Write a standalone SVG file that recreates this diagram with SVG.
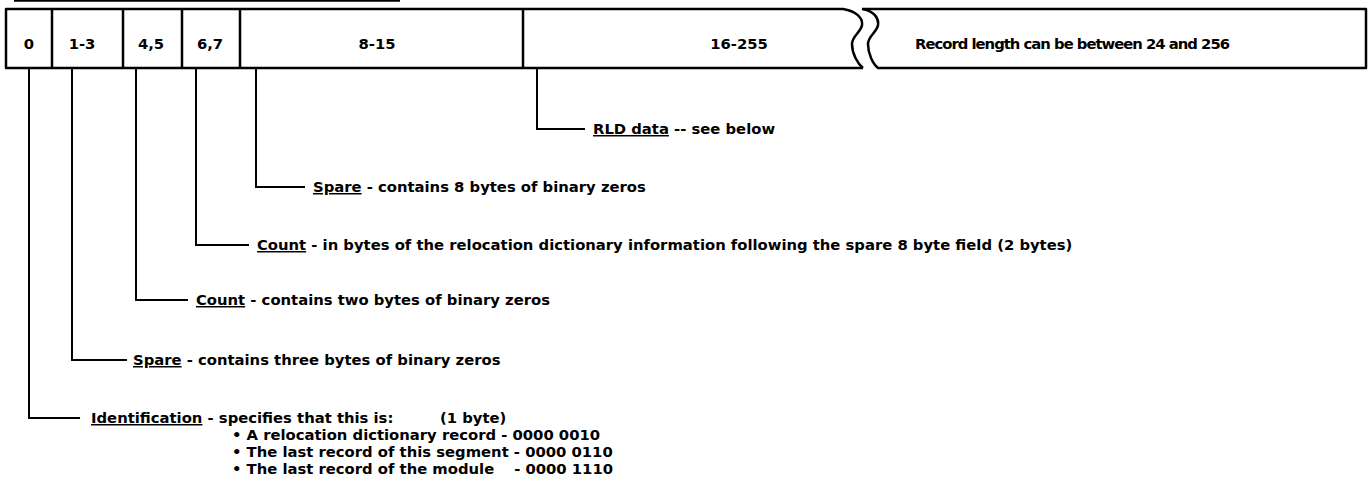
<svg xmlns="http://www.w3.org/2000/svg" width="1371" height="494" viewBox="0 0 1371 494">
  <style>
    .frame { fill: none; stroke: #000; stroke-width: 2.5; stroke-linejoin: round; }
    .lead { fill: none; stroke: #000; stroke-width: 2; }
    .t { font-family: "DejaVu Sans", "Liberation Sans", sans-serif; font-weight: 700; font-size: 14.8px; fill: #000; }
    .c { text-anchor: middle; }
    .u { text-decoration: underline; }
  </style>
  <rect width="1371" height="494" fill="#fff"/>

  <!-- rule left over from the heading above the record -->
  <line x1="14" y1="0.8" x2="400" y2="0.8" stroke="#000" stroke-width="2"/>

  <!-- record layout -->
  <g id="record">
    <path class="frame" d="M863,68 H6 V9 H843 C856,11 863,18 862,25 C861,32 852,36 852,44 C852,54 858,64 863,68"/>
    <path class="frame" d="M862,9 C874,11 879,18 878,25 C877,32 868,36 868,44 C868,54 873,64 878,68 H1366 V9 H862"/>
    <g id="f0"><line class="frame" x1="52" y1="9" x2="52" y2="68"/><text class="t c" x="29" y="49">0</text></g>
    <g id="f1-3"><line class="frame" x1="123" y1="9" x2="123" y2="68"/><text class="t c" x="82" y="49">1-3</text></g>
    <g id="f4-5"><line class="frame" x1="182" y1="9" x2="182" y2="68"/><text class="t c" x="151" y="49">4,5</text></g>
    <g id="f6-7"><line class="frame" x1="240" y1="9" x2="240" y2="68"/><text class="t c" x="210" y="49">6,7</text></g>
    <g id="f8-15"><line class="frame" x1="523" y1="9" x2="523" y2="68"/><text class="t c" x="377" y="49">8-15</text></g>
    <g id="f16-255"><text class="t c" x="739" y="49">16-255</text></g>
    <g id="length"><text class="t" x="915" y="49" textLength="315">Record length can be between 24 and 256</text></g>
  </g>

  <!-- leaders from each field to its description -->
  <g id="connectors">
    <path class="lead" d="M537,68 V129 H585"/>
    <path class="lead" d="M256,68 V187 H305"/>
    <path class="lead" d="M196,68 V245 H249"/>
    <path class="lead" d="M136,68 V300 H188"/>
    <path class="lead" d="M72,68 V360 H127"/>
    <path class="lead" d="M29,68 V418 H80"/>
  </g>

  <g id="d16-255"><text class="t" x="593" y="134"><tspan class="u">RLD data</tspan> -- see below</text></g>
  <g id="d8-15"><text class="t" x="313" y="192"><tspan class="u">Spare</tspan> - contains 8 bytes of binary zeros</text></g>
  <g id="d6-7"><text class="t" x="257" y="250"><tspan class="u">Count</tspan> - in bytes of the relocation dictionary information following the spare 8 byte field (2 bytes)</text></g>
  <g id="d4-5"><text class="t" x="196" y="305"><tspan class="u">Count</tspan> - contains two bytes of binary zeros</text></g>
  <g id="d1-3"><text class="t" x="133" y="365"><tspan class="u">Spare</tspan> - contains three bytes of binary zeros</text></g>
  <g id="d0">
    <text class="t" x="91" y="423"><tspan class="u">Identification</tspan> - specifies that this is:</text>
    <text class="t" x="440" y="423">(1 byte)</text>
    <text class="t" x="232" y="440">• A relocation dictionary record - 0000 0010</text>
    <text class="t" x="232" y="457">• The last record of this segment - 0000 0110</text>
    <text class="t" x="232" y="474">• The last record of the module <tspan x="613" text-anchor="end">- 0000 1110</tspan></text>
  </g>
</svg>
